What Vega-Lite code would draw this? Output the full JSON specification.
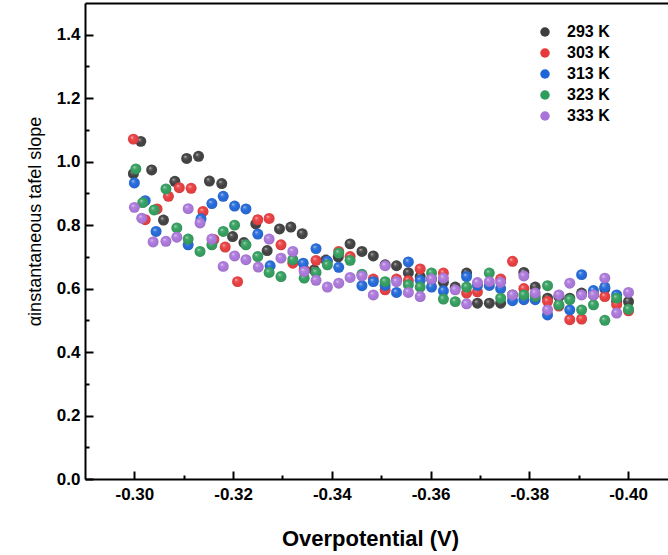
{
"$schema": "https://vega.github.io/schema/vega-lite/v6.json",
"width": 583, "height": 476,
"autosize": {"type": "none"},
"padding": {"left": 85, "top": 3, "right": 0, "bottom": 76},
"background": "white",
"config": {"view": {"stroke": null}, "font": "Liberation Sans"},
"data": {"values": [
{"T":"293 K","v":-0.2998,"a":0.962},{"T":"293 K","v":-0.3013,"a":1.064},{"T":"293 K","v":-0.3035,"a":0.974},{"T":"293 K","v":-0.3059,"a":0.816},{"T":"293 K","v":-0.3082,"a":0.938},{"T":"293 K","v":-0.3106,"a":1.010},{"T":"293 K","v":-0.3130,"a":1.017},{"T":"293 K","v":-0.3152,"a":0.939},{"T":"293 K","v":-0.3177,"a":0.931},{"T":"293 K","v":-0.3199,"a":0.764},{"T":"293 K","v":-0.3222,"a":0.745},{"T":"293 K","v":-0.3246,"a":0.804},{"T":"293 K","v":-0.3269,"a":0.720},{"T":"293 K","v":-0.3294,"a":0.788},{"T":"293 K","v":-0.3317,"a":0.794},{"T":"293 K","v":-0.3340,"a":0.773},{"T":"293 K","v":-0.3364,"a":0.659},{"T":"293 K","v":-0.3388,"a":0.690},{"T":"293 K","v":-0.3413,"a":0.700},{"T":"293 K","v":-0.3437,"a":0.741},{"T":"293 K","v":-0.3461,"a":0.717},{"T":"293 K","v":-0.3484,"a":0.703},{"T":"293 K","v":-0.3508,"a":0.675},{"T":"293 K","v":-0.3531,"a":0.672},{"T":"293 K","v":-0.3555,"a":0.650},{"T":"293 K","v":-0.3579,"a":0.638},{"T":"293 K","v":-0.3602,"a":0.630},{"T":"293 K","v":-0.3626,"a":0.620},{"T":"293 K","v":-0.3650,"a":0.605},{"T":"293 K","v":-0.3673,"a":0.649},{"T":"293 K","v":-0.3695,"a":0.554},{"T":"293 K","v":-0.3719,"a":0.554},{"T":"293 K","v":-0.3742,"a":0.554},{"T":"293 K","v":-0.3766,"a":0.580},{"T":"293 K","v":-0.3789,"a":0.651},{"T":"293 K","v":-0.3812,"a":0.605},{"T":"293 K","v":-0.3837,"a":0.570},{"T":"293 K","v":-0.3860,"a":0.575},{"T":"293 K","v":-0.3882,"a":0.570},{"T":"293 K","v":-0.3906,"a":0.586},{"T":"293 K","v":-0.3930,"a":0.580},{"T":"293 K","v":-0.3953,"a":0.600},{"T":"293 K","v":-0.3977,"a":0.560},{"T":"293 K","v":-0.4001,"a":0.559},
{"T":"303 K","v":-0.2998,"a":1.071},{"T":"303 K","v":-0.3022,"a":0.817},{"T":"303 K","v":-0.3046,"a":0.851},{"T":"303 K","v":-0.3069,"a":0.891},{"T":"303 K","v":-0.3091,"a":0.918},{"T":"303 K","v":-0.3115,"a":0.916},{"T":"303 K","v":-0.3139,"a":0.843},{"T":"303 K","v":-0.3161,"a":0.755},{"T":"303 K","v":-0.3184,"a":0.731},{"T":"303 K","v":-0.3209,"a":0.622},{"T":"303 K","v":-0.3250,"a":0.817},{"T":"303 K","v":-0.3273,"a":0.821},{"T":"303 K","v":-0.3297,"a":0.738},{"T":"303 K","v":-0.3321,"a":0.680},{"T":"303 K","v":-0.3344,"a":0.660},{"T":"303 K","v":-0.3368,"a":0.689},{"T":"303 K","v":-0.3414,"a":0.717},{"T":"303 K","v":-0.3437,"a":0.701},{"T":"303 K","v":-0.3484,"a":0.630},{"T":"303 K","v":-0.3508,"a":0.596},{"T":"303 K","v":-0.3531,"a":0.630},{"T":"303 K","v":-0.3555,"a":0.625},{"T":"303 K","v":-0.3579,"a":0.662},{"T":"303 K","v":-0.3626,"a":0.649},{"T":"303 K","v":-0.3673,"a":0.586},{"T":"303 K","v":-0.3695,"a":0.590},{"T":"303 K","v":-0.3742,"a":0.630},{"T":"303 K","v":-0.3766,"a":0.686},{"T":"303 K","v":-0.3789,"a":0.600},{"T":"303 K","v":-0.3837,"a":0.560},{"T":"303 K","v":-0.3860,"a":0.545},{"T":"303 K","v":-0.3882,"a":0.502},{"T":"303 K","v":-0.3906,"a":0.504},{"T":"303 K","v":-0.3953,"a":0.575},{"T":"303 K","v":-0.3977,"a":0.550},{"T":"303 K","v":-0.4001,"a":0.530},
{"T":"313 K","v":-0.3000,"a":0.933},{"T":"313 K","v":-0.3022,"a":0.877},{"T":"313 K","v":-0.3044,"a":0.780},{"T":"313 K","v":-0.3109,"a":0.738},{"T":"313 K","v":-0.3135,"a":0.820},{"T":"313 K","v":-0.3157,"a":0.868},{"T":"313 K","v":-0.3180,"a":0.891},{"T":"313 K","v":-0.3203,"a":0.860},{"T":"313 K","v":-0.3226,"a":0.851},{"T":"313 K","v":-0.3250,"a":0.772},{"T":"313 K","v":-0.3275,"a":0.672},{"T":"313 K","v":-0.3342,"a":0.680},{"T":"313 K","v":-0.3368,"a":0.726},{"T":"313 K","v":-0.3391,"a":0.686},{"T":"313 K","v":-0.3414,"a":0.667},{"T":"313 K","v":-0.3461,"a":0.609},{"T":"313 K","v":-0.3484,"a":0.622},{"T":"313 K","v":-0.3508,"a":0.610},{"T":"313 K","v":-0.3531,"a":0.588},{"T":"313 K","v":-0.3555,"a":0.684},{"T":"313 K","v":-0.3579,"a":0.626},{"T":"313 K","v":-0.3602,"a":0.605},{"T":"313 K","v":-0.3626,"a":0.593},{"T":"313 K","v":-0.3673,"a":0.638},{"T":"313 K","v":-0.3695,"a":0.610},{"T":"313 K","v":-0.3719,"a":0.610},{"T":"313 K","v":-0.3742,"a":0.600},{"T":"313 K","v":-0.3766,"a":0.562},{"T":"313 K","v":-0.3789,"a":0.565},{"T":"313 K","v":-0.3812,"a":0.565},{"T":"313 K","v":-0.3837,"a":0.517},{"T":"313 K","v":-0.3882,"a":0.533},{"T":"313 K","v":-0.3906,"a":0.644},{"T":"313 K","v":-0.3930,"a":0.594},{"T":"313 K","v":-0.3953,"a":0.605},{"T":"313 K","v":-0.3977,"a":0.580},
{"T":"323 K","v":-0.3003,"a":0.977},{"T":"323 K","v":-0.3017,"a":0.871},{"T":"323 K","v":-0.3040,"a":0.848},{"T":"323 K","v":-0.3064,"a":0.914},{"T":"323 K","v":-0.3086,"a":0.791},{"T":"323 K","v":-0.3109,"a":0.756},{"T":"323 K","v":-0.3133,"a":0.717},{"T":"323 K","v":-0.3157,"a":0.738},{"T":"323 K","v":-0.3180,"a":0.780},{"T":"323 K","v":-0.3203,"a":0.800},{"T":"323 K","v":-0.3226,"a":0.738},{"T":"323 K","v":-0.3250,"a":0.701},{"T":"323 K","v":-0.3273,"a":0.651},{"T":"323 K","v":-0.3297,"a":0.638},{"T":"323 K","v":-0.3321,"a":0.691},{"T":"323 K","v":-0.3344,"a":0.633},{"T":"323 K","v":-0.3368,"a":0.651},{"T":"323 K","v":-0.3391,"a":0.675},{"T":"323 K","v":-0.3414,"a":0.712},{"T":"323 K","v":-0.3437,"a":0.689},{"T":"323 K","v":-0.3461,"a":0.645},{"T":"323 K","v":-0.3508,"a":0.622},{"T":"323 K","v":-0.3555,"a":0.612},{"T":"323 K","v":-0.3579,"a":0.605},{"T":"323 K","v":-0.3602,"a":0.649},{"T":"323 K","v":-0.3626,"a":0.567},{"T":"323 K","v":-0.3650,"a":0.559},{"T":"323 K","v":-0.3673,"a":0.605},{"T":"323 K","v":-0.3719,"a":0.649},{"T":"323 K","v":-0.3742,"a":0.570},{"T":"323 K","v":-0.3789,"a":0.580},{"T":"323 K","v":-0.3812,"a":0.575},{"T":"323 K","v":-0.3837,"a":0.609},{"T":"323 K","v":-0.3860,"a":0.549},{"T":"323 K","v":-0.3882,"a":0.565},{"T":"323 K","v":-0.3906,"a":0.533},{"T":"323 K","v":-0.3930,"a":0.549},{"T":"323 K","v":-0.3953,"a":0.500},{"T":"323 K","v":-0.3977,"a":0.570},{"T":"323 K","v":-0.4001,"a":0.535},
{"T":"333 K","v":-0.3000,"a":0.856},{"T":"333 K","v":-0.3015,"a":0.822},{"T":"333 K","v":-0.3038,"a":0.747},{"T":"333 K","v":-0.3064,"a":0.749},{"T":"333 K","v":-0.3086,"a":0.762},{"T":"333 K","v":-0.3109,"a":0.852},{"T":"333 K","v":-0.3133,"a":0.807},{"T":"333 K","v":-0.3157,"a":0.756},{"T":"333 K","v":-0.3180,"a":0.670},{"T":"333 K","v":-0.3203,"a":0.703},{"T":"333 K","v":-0.3226,"a":0.691},{"T":"333 K","v":-0.3251,"a":0.668},{"T":"333 K","v":-0.3273,"a":0.756},{"T":"333 K","v":-0.3297,"a":0.696},{"T":"333 K","v":-0.3321,"a":0.717},{"T":"333 K","v":-0.3344,"a":0.654},{"T":"333 K","v":-0.3368,"a":0.626},{"T":"333 K","v":-0.3391,"a":0.605},{"T":"333 K","v":-0.3414,"a":0.617},{"T":"333 K","v":-0.3437,"a":0.635},{"T":"333 K","v":-0.3461,"a":0.640},{"T":"333 K","v":-0.3484,"a":0.580},{"T":"333 K","v":-0.3508,"a":0.672},{"T":"333 K","v":-0.3531,"a":0.622},{"T":"333 K","v":-0.3555,"a":0.588},{"T":"333 K","v":-0.3579,"a":0.575},{"T":"333 K","v":-0.3602,"a":0.630},{"T":"333 K","v":-0.3626,"a":0.633},{"T":"333 K","v":-0.3650,"a":0.596},{"T":"333 K","v":-0.3673,"a":0.552},{"T":"333 K","v":-0.3695,"a":0.619},{"T":"333 K","v":-0.3719,"a":0.622},{"T":"333 K","v":-0.3742,"a":0.620},{"T":"333 K","v":-0.3766,"a":0.580},{"T":"333 K","v":-0.3789,"a":0.640},{"T":"333 K","v":-0.3812,"a":0.586},{"T":"333 K","v":-0.3837,"a":0.533},{"T":"333 K","v":-0.3860,"a":0.580},{"T":"333 K","v":-0.3882,"a":0.617},{"T":"333 K","v":-0.3906,"a":0.580},{"T":"333 K","v":-0.3930,"a":0.580},{"T":"333 K","v":-0.3953,"a":0.633},{"T":"333 K","v":-0.3977,"a":0.523},{"T":"333 K","v":-0.4001,"a":0.588}
]},
"encoding": {
  "y": {"field": "a", "type": "quantitative",
    "scale": {"domain": [0, 1.5], "nice": false, "zero": false},
    "axis": {"values": [0,0.1,0.2,0.3,0.4,0.5,0.6,0.7,0.8,0.9,1.0,1.1,1.2,1.3,1.4],
      "labelExpr": "round(datum.value*10)%2==0 ? format(datum.value,'.1f') : ''",
      "tickSize": {"condition": {"test": "round(datum.value*10)%2==0", "value": -8}, "value": -4},
      "tickColor": "black", "tickWidth": 2, "domainColor": "black", "domainWidth": 2,
      "labelFont": "Liberation Sans", "labelFontWeight": "bold", "labelFontSize": 17, "labelColor": "black", "labelPadding": 13,
      "grid": false,
      "title": "αinstantaneous tafel slope", "titleFont": "Liberation Sans", "titleFontSize": 18, "titleFontWeight": "normal", "titleColor": "black",
      "titleX": -50, "titleY": 218, "titleAngle": -90, "titleAlign": "center", "titleBaseline": "middle"}}
},
"layer": [
  {"mark": {"type": "point", "filled": true, "opacity": 0},
   "encoding": {
     "x": {"field": "v", "type": "quantitative",
       "scale": {"domain": [-0.4081, -0.29], "reverse": true, "nice": false, "zero": false},
       "axis": {"orient": "top", "labels": false, "ticks": false, "title": null, "domainColor": "black", "domainWidth": 2, "grid": false}}
   }},
  {"encoding": {
     "x": {"field": "v", "type": "quantitative",
       "scale": {"domain": [-0.4081, -0.29], "reverse": true, "nice": false, "zero": false},
       "axis": {"orient": "bottom", "values": [-0.30,-0.31,-0.32,-0.33,-0.34,-0.35,-0.36,-0.37,-0.38,-0.39,-0.40],
         "labelExpr": "abs(round(datum.value*100))%2==0 ? '-' + format(abs(datum.value),'.2f') : ''",
         "tickSize": {"condition": {"test": "abs(round(datum.value*100))%2==0", "value": -8}, "value": -4},
         "tickColor": "black", "tickWidth": 2, "domainColor": "black", "domainWidth": 2,
         "labelFont": "Liberation Sans", "labelFontWeight": "bold", "labelFontSize": 17, "labelColor": "black", "labelPadding": 15,
         "grid": false,
         "title": "Overpotential (V)", "titleFont": "Liberation Sans", "titleFontSize": 22, "titleFontWeight": "bold", "titleColor": "black",
         "titleX": 285, "titleY": 66, "titleBaseline": "alphabetic"}},
     "color": {"field": "T", "type": "nominal",
       "scale": {"domain": ["293 K","303 K","313 K","323 K","333 K"], "range": ["#3d3d3d","#e8393b","#1e66d8","#2e9c5a","#a974da"]},
       "legend": {"orient": "none", "legendX": 452, "legendY": 21, "title": null, "symbolType": "circle", "symbolSize": 90,
         "labelFont": "Liberation Sans", "labelFontSize": 16, "labelFontWeight": "bold", "labelOffset": 14, "rowPadding": 5, "padding": 0,
         "symbolStrokeWidth": 0,
         "encode": {"labels": {"update": {"fill": {"signal": "datum.value === '293 K' ? '#000000' : scale('color', datum.value)"}}}}}}
   },
   "layer": [
     {"transform": [{"filter": "datum.T === '293 K'"}], "mark": {"type": "circle", "size": 120, "opacity": 1}},
     {"transform": [{"filter": "datum.T === '293 K'"}], "mark": {"type": "circle", "size": 120, "opacity": 1, "fill": {"gradient": "radial", "x1": 0.36, "y1": 0.32, "r1": 0, "x2": 0.5, "y2": 0.5, "r2": 0.55, "stops": [{"offset": 0, "color": "rgba(255,255,255,0.75)"}, {"offset": 0.25, "color": "rgba(255,255,255,0.15)"}, {"offset": 0.65, "color": "rgba(255,255,255,0)"}, {"offset": 1, "color": "rgba(0,0,0,0.25)"}]}}, "encoding": {"color": {"value": null}}},
     {"transform": [{"filter": "datum.T === '303 K'"}], "mark": {"type": "circle", "size": 120, "opacity": 1}},
     {"transform": [{"filter": "datum.T === '303 K'"}], "mark": {"type": "circle", "size": 120, "opacity": 1, "fill": {"gradient": "radial", "x1": 0.36, "y1": 0.32, "r1": 0, "x2": 0.5, "y2": 0.5, "r2": 0.55, "stops": [{"offset": 0, "color": "rgba(255,255,255,0.75)"}, {"offset": 0.25, "color": "rgba(255,255,255,0.15)"}, {"offset": 0.65, "color": "rgba(255,255,255,0)"}, {"offset": 1, "color": "rgba(0,0,0,0.25)"}]}}, "encoding": {"color": {"value": null}}},
     {"transform": [{"filter": "datum.T === '313 K'"}], "mark": {"type": "circle", "size": 120, "opacity": 1}},
     {"transform": [{"filter": "datum.T === '313 K'"}], "mark": {"type": "circle", "size": 120, "opacity": 1, "fill": {"gradient": "radial", "x1": 0.36, "y1": 0.32, "r1": 0, "x2": 0.5, "y2": 0.5, "r2": 0.55, "stops": [{"offset": 0, "color": "rgba(255,255,255,0.75)"}, {"offset": 0.25, "color": "rgba(255,255,255,0.15)"}, {"offset": 0.65, "color": "rgba(255,255,255,0)"}, {"offset": 1, "color": "rgba(0,0,0,0.25)"}]}}, "encoding": {"color": {"value": null}}},
     {"transform": [{"filter": "datum.T === '323 K'"}], "mark": {"type": "circle", "size": 120, "opacity": 1}},
     {"transform": [{"filter": "datum.T === '323 K'"}], "mark": {"type": "circle", "size": 120, "opacity": 1, "fill": {"gradient": "radial", "x1": 0.36, "y1": 0.32, "r1": 0, "x2": 0.5, "y2": 0.5, "r2": 0.55, "stops": [{"offset": 0, "color": "rgba(255,255,255,0.75)"}, {"offset": 0.25, "color": "rgba(255,255,255,0.15)"}, {"offset": 0.65, "color": "rgba(255,255,255,0)"}, {"offset": 1, "color": "rgba(0,0,0,0.25)"}]}}, "encoding": {"color": {"value": null}}},
     {"transform": [{"filter": "datum.T === '333 K'"}], "mark": {"type": "circle", "size": 120, "opacity": 1}},
     {"transform": [{"filter": "datum.T === '333 K'"}], "mark": {"type": "circle", "size": 120, "opacity": 1, "fill": {"gradient": "radial", "x1": 0.36, "y1": 0.32, "r1": 0, "x2": 0.5, "y2": 0.5, "r2": 0.55, "stops": [{"offset": 0, "color": "rgba(255,255,255,0.75)"}, {"offset": 0.25, "color": "rgba(255,255,255,0.15)"}, {"offset": 0.65, "color": "rgba(255,255,255,0)"}, {"offset": 1, "color": "rgba(0,0,0,0.25)"}]}}, "encoding": {"color": {"value": null}}}
   ]}
],
"resolve": {"axis": {"x": "independent"}}
}
